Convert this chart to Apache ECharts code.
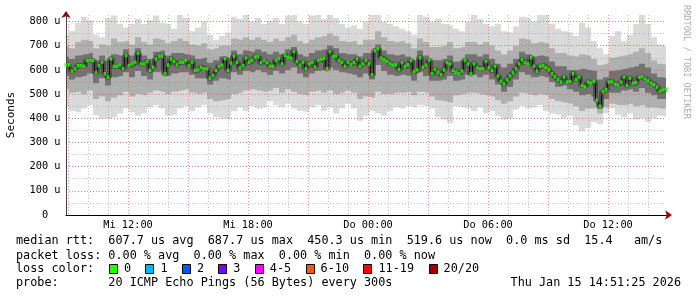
<!DOCTYPE html>
<html><head><meta charset="utf-8">
<script src="https://cdn.jsdelivr.net/npm/echarts@6/dist/echarts.min.js"></script>
<style>html,body{margin:0;padding:0;background:#fff}#c{width:697px;height:297px}</style>
</head><body><div id="c"></div>
<script>
// time is in hours since Mi 00:00
const START_H = 8.9;          // first sample (Mi 08:54)
const END_H = 38.9;           // last sample (Do 14:54)
const MEDIAN_STEP_H = 0.15;   // 9 minutes
const BAND_STEP_H = 0.3;      // 18 minutes

// median rtt (microseconds)
const median = [
621,621,594,605,618,618,615,639,639,639,
588,618,632,584,570,646,615,615,621,605,
660,618,625,632,668,625,625,635,598,611,
645,657,657,584,620,645,635,621,632,632,
639,618,632,598,600,611,605,605,566,577,
598,615,620,646,598,628,657,632,608,618,
649,632,639,653,655,630,640,630,615,615,
640,648,625,660,653,649,676,635,620,632,
605,625,630,612,640,644,648,605,675,655,
658,639,632,615,632,621,630,645,615,625,
640,625,580,680,688,649,642,635,625,620,
621,601,630,614,621,639,592,600,650,611,
620,640,585,602,590,580,600,630,625,598,
591,584,595,640,625,584,625,608,605,605,
635,610,598,615,575,553,542,560,575,588,
605,625,642,630,625,650,615,595,615,618,
610,600,584,572,560,550,570,550,552,584,
560,570,536,530,550,546,553,475,450,510,
519,550,550,540,538,550,570,536,566,545,
548,570,572,563,555,545,539,529,512,517,
520];

// smoke: outer (min/max), middle and inner percentile envelopes
const hi1 = [
745,760,795,820,805,745,735,815,825,790,775,790,810,790,805,825,795,
790,770,830,815,760,775,800,745,725,740,755,820,810,830,800,815,790,
800,815,790,825,830,800,790,825,830,810,830,815,790,775,785,770,800,
830,835,800,790,780,770,760,745,830,820,800,810,790,785,770,760,800,
830,810,790,780,790,760,755,780,820,815,800,830,835,790,770,760,755,
740,795,775,720,690,665,740,760,720,745,790,830,790,735,705,700];
const hi2 = [
700,690,715,725,720,690,705,700,730,715,720,705,735,715,705,730,725,
710,720,730,720,705,700,710,685,690,700,700,730,725,735,725,735,725,
715,730,720,735,745,720,710,725,735,740,750,740,720,715,720,705,725,
725,760,735,720,715,720,710,690,730,715,695,695,700,715,690,695,715,
715,705,715,700,680,665,680,700,730,725,710,715,710,690,670,670,660,
655,665,660,645,620,625,650,655,660,665,675,690,670,640,625,620];
const hi3 = [
655,645,660,665,670,640,660,640,665,660,685,660,690,660,645,675,680,
660,670,670,665,660,645,650,630,640,655,650,680,665,680,675,685,675,
665,675,665,685,695,665,655,670,680,685,700,690,670,665,665,655,670,
670,705,680,665,660,665,655,640,680,660,640,640,645,660,635,640,665,
665,655,665,645,625,610,625,645,675,665,655,660,655,635,615,615,600,
600,605,600,595,560,570,595,600,605,610,615,625,610,585,570,565];
const lo3 = [
575,560,570,575,585,545,565,535,570,575,590,570,595,575,560,590,595,
575,585,590,590,580,565,565,540,555,565,560,590,580,595,590,600,590,
580,595,585,600,610,585,570,585,595,600,610,600,590,585,580,570,585,
560,620,595,580,575,580,575,555,590,575,555,555,560,575,555,560,580,
580,570,580,560,540,510,530,560,590,580,570,575,570,550,530,535,520,
510,495,500,490,440,480,505,505,515,520,510,525,505,495,480,480];
const lo2 = [
520,505,510,500,515,480,490,470,485,495,510,490,500,495,505,515,510,
500,510,515,520,505,500,505,480,470,475,480,500,505,515,520,515,510,
515,525,505,520,510,500,495,510,515,505,515,500,505,515,505,480,490,
485,510,500,500,505,505,510,495,510,505,490,475,470,465,495,500,505,
505,500,495,490,475,460,470,490,505,500,495,500,495,480,470,465,460,
450,430,440,440,420,445,460,455,455,460,450,455,445,445,440,440];
const lo1 = [
445,430,425,440,455,412,400,398,405,420,440,425,410,420,445,455,440,
410,415,440,450,430,445,455,420,405,400,395,430,445,430,450,440,445,
470,455,445,460,440,430,425,445,455,430,445,420,440,460,440,390,410,
430,420,410,430,445,440,450,445,455,450,440,405,395,380,450,445,440,
430,445,420,430,410,395,400,435,450,440,445,455,430,420,415,400,410,
370,345,360,385,375,420,440,415,405,420,395,400,385,400,410,405];

const xTickHours = [12, 18, 24, 30, 36];
const xTickLabels = ['Mi 12:00', 'Mi 18:00', 'Do 00:00', 'Do 06:00', 'Do 12:00'];
const yTickValues = [0, 100, 200, 300, 400, 500, 600, 700, 800];
const yTickLabels = ['0', '100 u', '200 u', '300 u', '400 u', '500 u', '600 u', '700 u', '800 u'];

const statsRows = [
  'median rtt:  607.7 us avg  687.7 us max  450.3 us min  519.6 us now  0.0 ms sd  15.4   am/s',
  'packet loss: 0.00 % avg  0.00 % max  0.00 % min  0.00 % now'
];
const lossLabels = ['0', '1', '2', '3', '4-5', '6-10', '11-19', '20/20'];
const lossColors = ['#26ff00', '#00b8ff', '#0059ff', '#7e00ff', '#ff00ff', '#ff5500', '#ff0000', '#a10000'];
const probeText = 'probe:       20 ICMP Echo Pings (56 Bytes) every 300s';
const dateText = 'Thu Jan 15 14:51:25 2026';

const MONO = '"DejaVu Sans Mono", "Liberation Mono", monospace';
const MAJOR = 'rgba(225,70,70,0.55)';
const MINOR = 'rgba(130,130,130,0.45)';

function pairs(arr, step) {
  return arr.map((v, i) => [Math.round((START_H + i * step) * 1000) / 1000, v]);
}
function band(arr, color) {
  return {
    type: 'line', xAxisIndex: 0, yAxisIndex: 0, data: pairs(arr, BAND_STEP_H),
    step: 'middle', symbol: 'none', silent: true, z: 2,
    lineStyle: { width: 0, color: color }, areaStyle: { color: color, opacity: 1 }
  };
}

const chart = echarts.init(document.getElementById('c'), null, { renderer: 'canvas' });

// legend graphics
const CW = 7.15, LX = 16;
const g = [];
const rowY = [241, 255.5, 269, 283];
g.push({ type: 'text', x: LX, y: rowY[0], style: { text: statsRows[0], fontFamily: MONO, fontSize: 11.8, fill: '#000', verticalAlign: 'middle' } });
g.push({ type: 'text', x: LX, y: rowY[1], style: { text: statsRows[1], fontFamily: MONO, fontSize: 11.8, fill: '#000', verticalAlign: 'middle' } });
g.push({ type: 'text', x: LX, y: rowY[2], style: { text: 'loss color:', fontFamily: MONO, fontSize: 11.8, fill: '#000', verticalAlign: 'middle' } });
let bx = LX + 13 * CW;
lossLabels.forEach((lab, i) => {
  g.push({ type: 'rect', shape: { x: Math.round(bx) + 0.5, y: rowY[2] - 4.5, width: 8, height: 9 }, style: { fill: lossColors[i], stroke: '#000', lineWidth: 1 } });
  const tx = bx + 2.1 * CW;
  g.push({ type: 'text', x: tx, y: rowY[2], style: { text: lab, fontFamily: MONO, fontSize: 11.8, fill: '#000', verticalAlign: 'middle' } });
  bx = tx + (lab.length + 2) * CW;
});
g.push({ type: 'text', x: LX, y: rowY[3], style: { text: probeText, fontFamily: MONO, fontSize: 11.8, fill: '#000', verticalAlign: 'middle' } });
g.push({ type: 'text', x: 681, y: rowY[3], style: { text: dateText, fontFamily: MONO, fontSize: 11.8, fill: '#000', align: 'right', verticalAlign: 'middle' } });
g.push({ type: 'text', x: 686, y: 5, rotation: -Math.PI / 2, style: { text: 'RRDTOOL / TOBI OETIKER', fontFamily: MONO, fontSize: 8.6, fill: '#b0b0b0', align: 'left', verticalAlign: 'middle' } });

const option = {
  animation: false,
  backgroundColor: '#ffffff',
  grid: [
    { left: 66, top: 15, width: 600, height: 200, outerBoundsMode: 'none', containLabel: false },
    { left: 68, top: 15, width: 600, height: 200, outerBoundsMode: 'none', containLabel: false }
  ],
  xAxis: [
    { type: 'value', gridIndex: 0, min: START_H, max: END_H, z: 11,
      axisLine: { show: true, lineStyle: { color: '#000', width: 1 } },
      axisTick: { show: false }, axisLabel: { show: false }, splitLine: { show: false } },
    { type: 'value', gridIndex: 1, min: 9, max: 39, interval: 3, z: 10,
      axisLine: { show: true, symbol: ['none', 'arrow'], symbolSize: [7, 7], symbolOffset: [0, 4], lineStyle: { color: '#9a0000', width: 1 } },
      axisTick: { show: false },
      axisLabel: { show: true, margin: 5, fontFamily: MONO, fontSize: 10.3, color: '#000',
        formatter: v => { const i = xTickHours.indexOf(Math.round(v * 1000) / 1000); return i >= 0 ? xTickLabels[i] : ''; } },
      splitLine: { show: true, showMaxLine: false, lineStyle: { color: MAJOR, width: 1, type: [1, 2] } },
      minorTick: { show: false, splitNumber: 3 },
      minorSplitLine: { show: true, lineStyle: { color: MINOR, width: 1, type: [1, 2] } } }
  ],
  yAxis: [
    { type: 'value', gridIndex: 0, min: 0, max: 827, interval: 100, z: 11,
      name: 'Seconds', nameLocation: 'middle', nameGap: 49, nameRotate: 90,
      nameTextStyle: { fontFamily: MONO, fontSize: 11, color: '#000' },
      axisLine: { show: true, lineStyle: { color: '#444', width: 1 } },
      axisTick: { show: false },
      axisLabel: { show: true, align: 'center', margin: 21, fontFamily: MONO, fontSize: 10.3, color: '#000', showMaxLabel: false,
        formatter: v => { const i = yTickValues.indexOf(Math.round(v)); return i >= 0 ? yTickLabels[i] : ''; } },
      splitLine: { show: true, showMaxLine: false, showMinLine: false, lineStyle: { color: MAJOR, width: 1, type: [1, 2] } } },
    { type: 'value', gridIndex: 0, min: 0, max: 827, interval: 50, z: 10, position: 'left', offset: 0,
      axisLine: { show: true, symbol: ['none', 'arrow'], symbolSize: [7, 7], symbolOffset: [0, 4], lineStyle: { color: '#9a0000', width: 1 } },
      axisTick: { show: false }, axisLabel: { show: false },
      splitLine: { show: true, showMaxLine: false, showMinLine: false, lineStyle: { color: MINOR, width: 1, type: [1, 2] } } },
    { type: 'value', gridIndex: 1, min: 0, max: 827, show: false }
  ],
  series: [
    band(hi1, '#dadada'),
    band(hi2, '#b0b0b0'),
    band(hi3, '#727272'),
    band(lo3, '#b0b0b0'),
    band(lo2, '#dadada'),
    band(lo1, '#ffffff'),
    { type: 'line', xAxisIndex: 0, yAxisIndex: 0, data: pairs(median, MEDIAN_STEP_H), step: 'middle', symbol: 'none', silent: true, z: 3,
      lineStyle: { color: '#333', width: 5, opacity: 0.6 } },
    { type: 'line', xAxisIndex: 0, yAxisIndex: 0, data: pairs(median, MEDIAN_STEP_H), step: 'middle', symbol: 'none', silent: true, z: 4,
      lineStyle: { color: '#111', width: 1 } },
    { type: 'scatter', xAxisIndex: 0, yAxisIndex: 0, data: pairs(median, MEDIAN_STEP_H), symbol: 'rect', symbolSize: [3, 3.4], silent: true, z: 20,
      itemStyle: { color: '#26ff00' } }
  ],
  graphic: g
};
chart.setOption(option);
</script></body></html>
